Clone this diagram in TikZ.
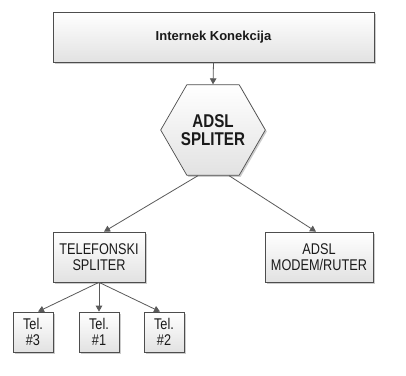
\documentclass[tikz,border=0pt]{standalone}
\usepackage{fontspec}
\setmainfont{Liberation Sans}
\newfontfamily\narrowfont{Liberation Sans}[FakeStretch=0.82]
\usetikzlibrary{shapes.geometric,arrows.meta,shadows}
\definecolor{txt}{HTML}{1A1A1A}
\definecolor{edgec}{HTML}{5A5A5A}
\definecolor{bordr}{HTML}{4D4D4D}
\definecolor{boxbot}{HTML}{E2E2E2}
\begin{document}
\begin{tikzpicture}[x=1pt,y=-1pt,
  box/.style={draw=bordr, line width=0.7pt, top color=white, bottom color=boxbot,
    drop shadow={shadow xshift=1.5pt,shadow yshift=-1.5pt,opacity=0.4},
    inner sep=0pt, align=center, text=txt},
  boxfont/.style={font=\narrowfont\fontsize{15.5pt}{15.5pt}\selectfont},
  conn/.style={draw=edgec, line width=0.8pt, -{Triangle[length=6pt,width=6.5pt]}}]
\useasboundingbox (0,0) rectangle (406,375);
\fill[white] (0,0) rectangle (406,375);
\node[box, minimum width=321pt, minimum height=50pt,
  font=\bfseries\fontsize{13pt}{15pt}\selectfont] (inet) at (213.5,37) {Internek Konekcija};
\node[box, regular polygon, regular polygon sides=6, minimum size=99pt,
  font=\narrowfont\bfseries\fontsize{18.5pt}{18.7pt}\selectfont] (hex) at (213,130) {ADSL\\SPLITER};
\node[box, boxfont, minimum width=92pt, minimum height=50pt] (tsp) at (99,257) {TELEFONSKI\\SPLITER};
\node[box, boxfont, minimum width=108pt, minimum height=50pt] (modem) at (319,257) {ADSL\\MODEM/RUTER};
\node[box, boxfont, minimum width=40pt, minimum height=40pt] (t3) at (33,332) {Tel.\\\#3};
\node[box, boxfont, minimum width=40pt, minimum height=40pt] (t1) at (99,332) {Tel.\\\#1};
\node[box, boxfont, minimum width=40pt, minimum height=40pt] (t2) at (164,332) {Tel.\\\#2};
\draw[conn] (inet.south) -- (hex.north);
\draw[conn] ([xshift=-15pt]hex.south) -- ([xshift=5pt]tsp.north);
\draw[conn] ([xshift=16pt]hex.south) -- ([xshift=-3pt]modem.north);
\draw[conn] (tsp.south) -- ([xshift=5pt]t3.north);
\draw[conn] (tsp.south) -- (t1.north);
\draw[conn] (tsp.south) -- ([xshift=-4pt]t2.north);
\end{tikzpicture}
\end{document}
